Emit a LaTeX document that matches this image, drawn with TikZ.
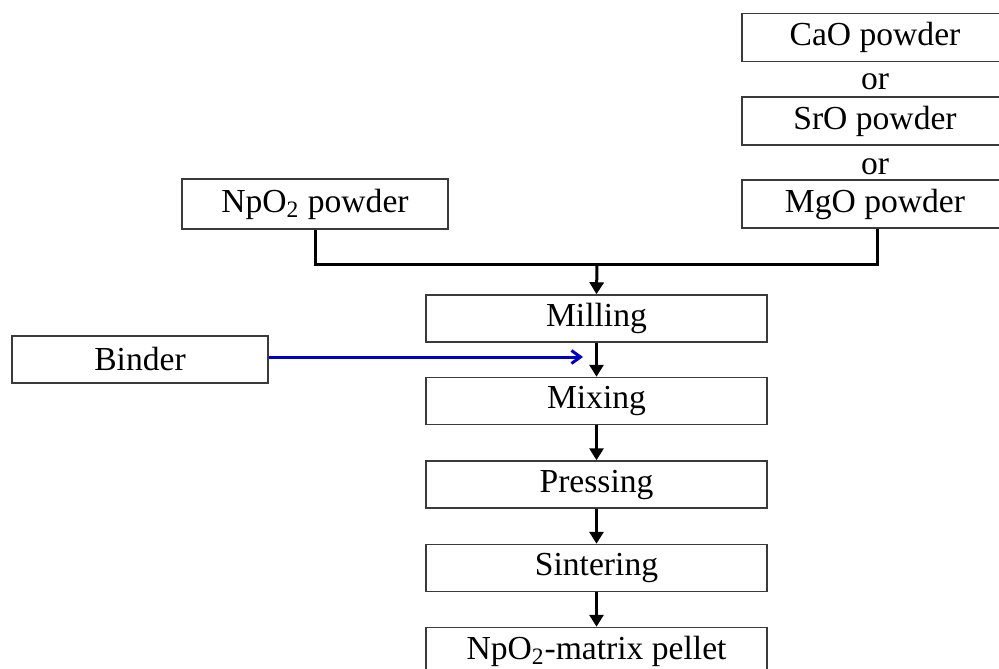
\documentclass[tikz,border=0pt]{standalone}
\usepackage{fontspec}
\setmainfont{Liberation Serif}
\usepackage{xcolor}
\definecolor{pfink}{HTML}{000000}
\definecolor{pfedge}{HTML}{3A3A3A}
\definecolor{pfblue}{HTML}{0000C8}
\usetikzlibrary{arrows.meta,positioning}
\tikzset{
  pfnode/.style  ={rectangle, draw=pfedge, fill=white, line width=0.75pt,
                   minimum width=133pt, minimum height=24pt, inner sep=0pt,
                   align=center, text=pfink},
  pfcut/.style   ={pfnode, minimum width=153pt, xshift=10pt},
  pfstep/.style  ={pfnode, minimum width=170.5pt, minimum height=23.5pt},
  pflbl/.style   ={inner sep=0pt, text=pfink},
  pfline/.style  ={line width=1.5pt, draw=pfink},
  pfarrow/.style ={-{Triangle[length=6pt,width=7pt]}, line width=1.5pt, draw=pfink},
  pfbind/.style  ={-{Straight Barb[length=4.5pt,width=6.5pt]}, line width=1.5pt, draw=pfblue},
}
\newcommand{\pfpad}{\hspace*{20pt}}

\begin{document}
\begin{tikzpicture}[x=0.5pt, y=-0.5pt, font=\fontsize{16.8}{20}\selectfont]
  \useasboundingbox (0,0) rectangle (999,668);
  % additive powders (right column, cut at the page edge)
  \node[pfcut]  (cao) at (875,37.5) {CaO powder\pfpad};
  \node[pflbl]  (or1) at (875,82)   {or};
  \node[pfcut]  (sro) at (875,121)  {SrO powder\pfpad};
  \node[pflbl]  (or2) at (875,167)  {or};
  \node[pfcut]  (mgo) at (875,204)  {MgO powder\pfpad};
  \node[pfnode, minimum height=25pt] (npo) at (315,204) {NpO\textsubscript{2} powder};
  % process steps
  \node[pfstep] (mill)  at (596.5,318.5) {Milling};
  \node[pfnode, minimum width=128pt, minimum height=23.5pt] (binder) at (140,359.5) {Binder};
  \node[pfstep] (mix)   at (596.5,401)   {Mixing};
  \node[pfstep] (press) at (596.5,484.5) {Pressing};
  \node[pfstep] (sint)  at (596.5,568)   {Sintering};
  \node[pfstep] (pellet) at (596.5,651)  {NpO\textsubscript{2}-matrix pellet};
  % joining line
  \coordinate (jn) at (597,264);
  \coordinate (mj) at (877,0);
  \draw[pfline] (npo.south) |- (jn) -| (mgo.south -| mj);
  \draw[pfarrow] (jn) -- (mill.north);
  \draw[pfarrow] (mill) -- (mix);
  \draw[pfarrow] (mix) -- (press);
  \draw[pfarrow] (press) -- (sint);
  \draw[pfarrow] (sint) -- (pellet);
  % binder feed
  \coordinate (bt) at (583,357);
  \draw[pfbind] (binder.east |- bt) -- (bt);
\end{tikzpicture}
\end{document}
